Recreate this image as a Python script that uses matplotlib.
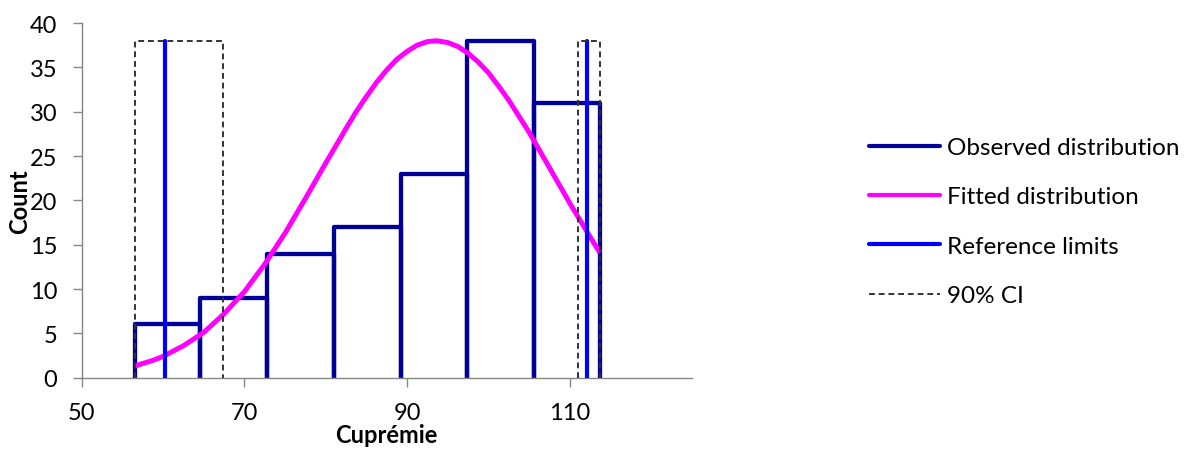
import matplotlib
matplotlib.use("Agg")
import matplotlib.pyplot as plt
from matplotlib.lines import Line2D

plt.rcParams['font.family'] = ['Lato', 'DejaVu Sans']

# ---- data ----
bin_edges = [56.5, 64.6, 72.8, 81.0, 89.2, 97.4, 105.6, 113.7]
bin_counts = [6, 9, 14, 17, 23, 38, 31]

fit_x = [56.5, 57.5, 58.75, 60, 62.5, 65, 67.5, 70, 72.5, 75, 77.5, 80, 82.5,
         83.75, 85, 86.25, 87.5, 88.75, 90, 91.25, 92.5, 93.6, 95, 96.25,
         97.5, 98.75, 100, 101.25, 102.5, 103.75, 105, 107.5, 110, 112.5, 113.7]
fit_y = [1.3, 1.6, 1.95, 2.4, 3.6, 5.1, 7.2, 9.7, 12.8, 16.3, 20.2, 24.2, 28.1,
         30.0, 31.7, 33.3, 34.7, 35.9, 36.8, 37.5, 37.9, 38.0, 37.8, 37.35,
         36.6, 35.6, 34.4, 32.9, 31.3, 29.5, 27.7, 23.7, 19.7, 15.9, 14.1]

ref_limits = [60.3, 112.1]
ref_height = 38
ci_low = [56.5, 67.4]
ci_high = [111.0, 113.7]
ci_height = 38

x_ticks = [50, 70, 90, 110]
y_ticks = [0, 5, 10, 15, 20, 25, 30, 35, 40]
x_label = "Cuprémie"
y_label = "Count"
legend_labels = ["Observed distribution", "Fitted distribution",
                 "Reference limits", "90% CI"]

# ---- styles ----
c_obs = "#000099"
c_fit = "#FF00FF"
c_ref = "#0000FF"
c_ci = "#333333"
grey = "#868686"

fig = plt.figure(figsize=(11.86, 4.52), dpi=100)
ax = fig.add_axes([0.0689, 0.1622, 0.5143, 0.7847])

# histogram outline (each bar as an open rectangle)
for i, h in enumerate(bin_counts):
    l, r = bin_edges[i], bin_edges[i + 1]
    ax.plot([l, l, r, r], [0, h, h, 0], color=c_obs, lw=3.1,
            solid_joinstyle='round', solid_capstyle='round', zorder=2)

# fitted curve
ax.plot(fit_x, fit_y, color=c_fit, lw=3.6, solid_capstyle='butt',
        solid_joinstyle='round', zorder=3)

# reference limits
for xv in ref_limits:
    ax.plot([xv, xv], [0, ref_height], color=c_ref, lw=3.0,
            solid_capstyle='round', zorder=4)

# 90% CI boxes
for lo, hi in (ci_low, ci_high):
    ax.plot([lo, lo, hi, hi], [0, ci_height, ci_height, 0], color=c_ci,
            lw=1.4, ls=(0, (3, 2)), zorder=5)

ax.set_xlim(50, 125)
ax.set_ylim(0, 40)
ax.set_xticks(x_ticks)
ax.set_yticks(y_ticks)
for s in ('top', 'right'):
    ax.spines[s].set_visible(False)
for s in ('left', 'bottom'):
    ax.spines[s].set_color(grey)
    ax.spines[s].set_linewidth(1.0)
ax.tick_params(axis='both', direction='out', length=6.5, width=1.0,
               color=grey, labelsize=17, labelcolor='black')
ax.tick_params(axis='y', pad=11)
ax.tick_params(axis='x', pad=11)
ax.set_xlabel(x_label, fontsize=17, fontweight='bold', labelpad=0)
ax.set_ylabel(y_label, fontsize=17, fontweight='bold', labelpad=-1)

handles = [
    Line2D([], [], color=c_obs, lw=3.0, solid_capstyle='round'),
    Line2D([], [], color=c_fit, lw=3.0, solid_capstyle='round'),
    Line2D([], [], color=c_ref, lw=3.0, solid_capstyle='round'),
    Line2D([], [], color=c_ci, lw=1.4, ls=(0, (3, 2))),
]
fig.legend(handles, legend_labels, loc='upper left',
           bbox_to_anchor=(869 / 1186, 1 - 138 / 452), frameon=False,
           fontsize=17.5, handlelength=2.92, handletextpad=0.29,
           labelspacing=1.17, borderpad=0, borderaxespad=0)

fig.savefig("out.png", dpi=100)
